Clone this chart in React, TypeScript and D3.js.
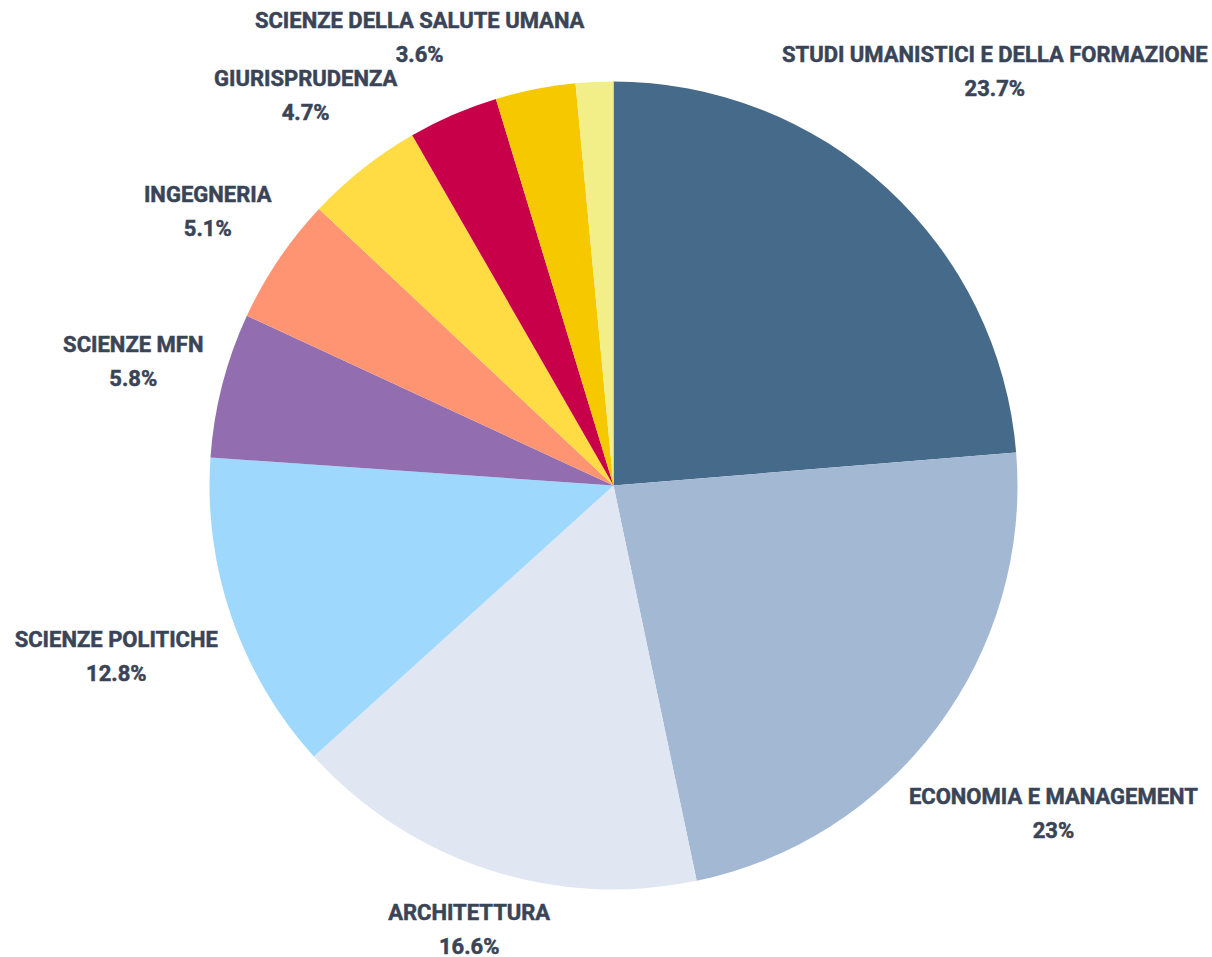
import React, { useEffect, useRef } from "react";
import * as d3 from "d3";

const categories = [
  "STUDI UMANISTICI E DELLA FORMAZIONE",
  "ECONOMIA E MANAGEMENT",
  "ARCHITETTURA",
  "SCIENZE POLITICHE",
  "SCIENZE MFN",
  "INGEGNERIA",
  "GIURISPRUDENZA",
  "SCIENZE DELLA SALUTE UMANA",
  "ALTRO 1",
  "ALTRO 2",
];
const values = [23.7, 23, 16.6, 12.8, 5.8, 5.1, 4.7, 3.6, 3.2, 1.5];
const showLabel = [true, true, true, true, true, true, true, true, false, false];
const colors = [
  "#466A8A",
  "#A3B8D2",
  "#E0E6F2",
  "#9ED8FD",
  "#926EB1",
  "#FF9473",
  "#FFDB44",
  "#C8004A",
  "#F5C800",
  "#F2EE88",
];

const W = 1212;
const H = 957;

export default function App() {
  const ref = useRef<SVGSVGElement>(null);
  useEffect(() => {
    const svg = d3.select(ref.current);
    svg.selectAll("*").remove();
    const cx = 613.5;
    const cy = 485.5;
    const R = 404;
    const data = categories.map((c, i) => ({ c, v: values[i], i }));
    const pie = d3.pie<any>().sort(null).value((d) => d.v);
    const arcs = pie(data);
    const arc = d3.arc<any>().innerRadius(0).outerRadius(R);
    const g = svg.append("g").attr("transform", `translate(${cx},${cy})`);
    g.selectAll("path")
      .data(arcs)
      .join("path")
      .attr("d", arc as any)
      .attr("fill", (d: any) => colors[d.data.i]);

    const gap = 17;
    const font = "Roboto, 'DejaVu Sans', sans-serif";
    arcs.forEach((a: any) => {
      if (!showLabel[a.data.i]) return;
      const mid = (a.startAngle + a.endAngle) / 2;
      const ux = Math.sin(mid);
      const uy = -Math.cos(mid);
      const lg = g.append("g");
      [a.data.c, `${d3.format("~")(a.data.v)}%`].forEach((t, k) => {
        lg.append("text")
          .attr("text-anchor", "middle")
          .attr("y", k === 0 ? -10 : 24)
          .attr("font-family", font)
          .attr("font-weight", 700)
          .attr("font-size", 22)
          .attr("fill", "#3A4457")
          .attr("stroke", "#3A4457")
          .attr("stroke-width", 0.5)
          .text(t);
      });
      const bb = (lg.node() as SVGGElement).getBBox();
      const hw = bb.width / 2;
      const hh = 28;
      const nearest = (t: number) => {
        const x = t * ux;
        const y = t * uy;
        const nx = Math.max(x - hw, Math.min(0, x + hw));
        const ny = Math.max(y - hh, Math.min(0, y + hh));
        return Math.hypot(nx, ny);
      };
      let lo = 0;
      let hi = 2000;
      for (let k = 0; k < 50; k++) {
        const m = (lo + hi) / 2;
        if (nearest(m) < R + gap) lo = m;
        else hi = m;
      }
      lg.attr("transform", `translate(${hi * ux},${hi * uy})`);
    });
  }, []);
  return (
    <svg
      ref={ref}
      width={W}
      height={H}
      style={{ display: "block", position: "absolute", left: 0, top: 0 }}
    />
  );
}
